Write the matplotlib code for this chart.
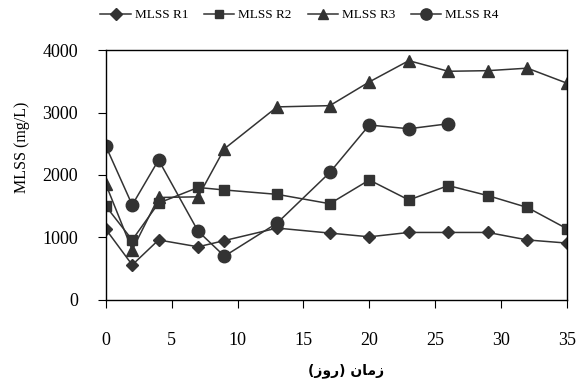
import matplotlib.pyplot as plt

# sampling days
days = [0, 2, 4, 7, 9, 13, 17, 20, 23, 26, 29, 32, 35]
days_r4 = [0, 2, 4, 7, 9, 13, 17, 20, 23, 26]

mlss_r1 = [1130, 560, 960, 850, 950, 1150, 1070, 1010, 1080, 1080, 1080, 960, 910]
mlss_r2 = [1500, 960, 1550, 1800, 1760, 1690, 1540, 1920, 1600, 1830, 1670, 1480, 1140]
mlss_r3 = [1850, 800, 1640, 1650, 2420, 3090, 3110, 3490, 3830, 3660, 3670, 3710, 3470]
mlss_r4 = [2460, 1520, 2240, 1100, 700, 1230, 2040, 2800, 2740, 2820]

labels = ['MLSS R1', 'MLSS R2', 'MLSS R3', 'MLSS R4']
yticks = [0, 1000, 2000, 3000, 4000]
xticks = [0, 5, 10, 15, 20, 25, 30, 35]

# "زمان (روز)" pre-shaped, visual order (matplotlib has no RTL layout)
xlabel = '(\ufeaf\ufeed\ufead) \ufee5\ufe8e\ufee3\ufeaf'

plt.rcParams['font.family'] = ['Liberation Serif', 'DejaVu Serif']
col = '#333333'

fig = plt.figure(figsize=(5.85, 3.85), dpi=100)
ax = fig.add_axes([0.181, 0.221, 0.788, 0.649])

ax.plot(days, mlss_r1, marker='D', ms=6.5, color=col, lw=1.1, label=labels[0])
ax.plot(days, mlss_r2, marker='s', ms=7, color=col, lw=1.1, label=labels[1])
ax.plot(days, mlss_r3, marker='^', ms=8.5, color=col, lw=1.1, label=labels[2])
ax.plot(days_r4, mlss_r4, marker='o', ms=9, color=col, lw=1.1, label=labels[3])

ax.set_xlim(0, 35)
ax.set_ylim(0, 4000)
ax.set_xticks(xticks)
ax.set_yticks(yticks)
ax.tick_params(axis='x', direction='out', length=6, pad=17, labelsize=13)
ax.tick_params(axis='y', direction='out', length=6, pad=14, labelsize=13)
for s in ax.spines.values():
    s.set_linewidth(1.0)

ax.set_ylabel('MLSS (mg/L)', fontsize=11.5, va='center')
ax.yaxis.set_label_coords(-0.182, 0.61)
ax.set_xlabel(xlabel, fontsize=10, fontweight='bold', family=['DejaVu Sans'], va='center')
ax.xaxis.set_label_coords(0.52, -0.285)

ax.legend(loc='center', bbox_to_anchor=(0.42, 1.14), ncol=4, frameon=False,
          fontsize=9.5, handlelength=2.3, columnspacing=1.2, handletextpad=0.3,
          borderaxespad=0, markerscale=0.9)

fig.savefig('out.png', dpi=100)
